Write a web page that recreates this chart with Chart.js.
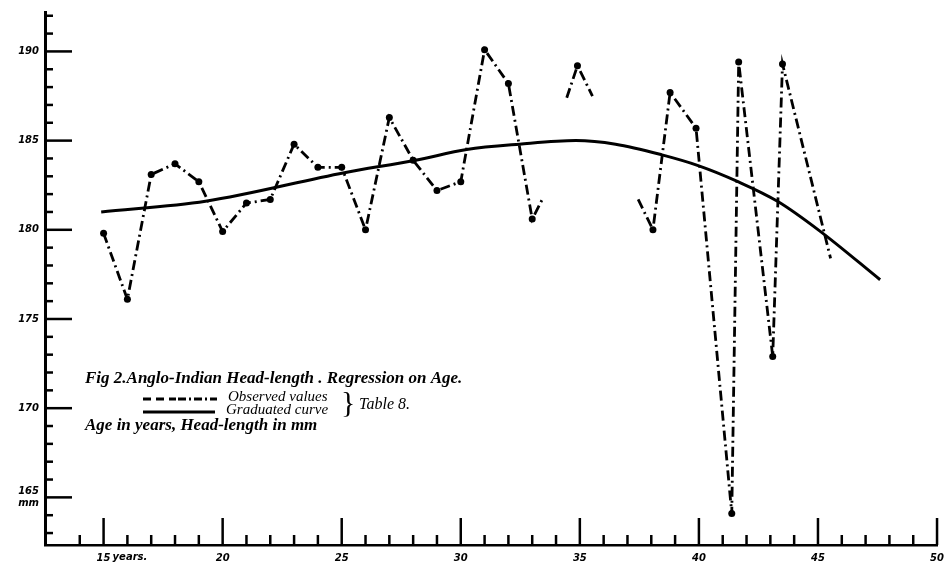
<!DOCTYPE html>
<html>
<head>
<meta charset="utf-8">
<script src="https://cdn.jsdelivr.net/npm/chart.js@4.4.1/dist/chart.umd.min.js"></script>
<style>
    html, body { margin: 0; padding: 0; background: #fff; }
    #wrap { width: 951px; height: 568px; position: relative; }
</style>
</head>
<body>
<div id="wrap"><canvas id="headLengthChart"></canvas></div>
<script>
// Observed values (Table 8). null = no observation, the line breaks there
const obsAge = [15, 16, 17, 18, 19, 20, 21, 22, 23, 24, 25, 26, 27, 28, 29, 30, 31, 32, 33,
    33.42, 34, 34.45, 34.9, 35.53, 36.5, 37.45,
    38.07, 38.79, 39.88, 41.38, 41.67, 43.1, 43.51, 45.53];
const obsMm = [179.8, 176.1, 183.1, 183.7, 182.7, 179.9, 181.5, 181.7, 184.8, 183.5, 183.5, 180.0, 186.3, 183.9, 182.2, 182.7, 190.1, 188.2, 180.6,
    181.7, null, 187.4, 189.2, 187.5, null, 181.7,
    180.0, 187.7, 185.7, 164.1, 189.4, 172.9, 189.3, 178.4];
// 1 = observation marked with a dot, 0 = loose end of a broken line
const obsDot = [1, 1, 1, 1, 1, 1, 1, 1, 1, 1, 1, 1, 1, 1, 1, 1, 1, 1, 1,
    0, 0, 0, 1, 0, 0, 0,
    1, 1, 1, 1, 1, 1, 1, 0];

// Graduated curve
const curveAge = [14.9, 19.28, 25.11, 28.1, 30.25, 32.47, 34.83, 36.5, 38.45, 39.97, 41.64, 43.3, 45.11, 47.61];
const curveMm = [181.0, 181.6, 183.2, 183.9, 184.5, 184.8, 185.0, 184.8, 184.2, 183.6, 182.7, 181.6, 179.9, 177.2];

// Axis labels
const yLabelValues = [165, 170, 175, 180, 185, 190];
const xLabelValues = [15, 20, 25, 30, 35, 40, 45, 50];

const tickFont = { family: 'DejaVu Sans', size: 10, weight: 'bold', style: 'italic' };

// Ticks drawn inward like the hand-ruled original, plus the figure notes
const handDrawn = {
    id: 'handDrawn',
    afterDraw(chart) {
        const { ctx, chartArea: area, scales: { x, y } } = chart;
        ctx.save();
        ctx.strokeStyle = '#000';
        ctx.fillStyle = '#000';

        // y ticks, every mm, long ones every 5
        ctx.lineWidth = 2.5;
        for (let v = Math.ceil(y.min); v <= Math.floor(y.max); v++) {
            const py = y.getPixelForValue(v);
            const len = v % 5 === 0 ? 27 : 8;
            ctx.beginPath();
            ctx.moveTo(area.left, py);
            ctx.lineTo(area.left + len, py);
            ctx.stroke();
        }
        // x ticks, every year, long ones every 5
        for (let a = 14; a <= Math.floor(x.max); a++) {
            const px = x.getPixelForValue(a);
            const len = a % 5 === 0 ? 27 : 10;
            ctx.beginPath();
            ctx.moveTo(px, area.bottom);
            ctx.lineTo(px, area.bottom - len);
            ctx.stroke();
        }

        // "years." after the first age label
        ctx.font = 'italic bold 10px "DejaVu Sans"';
        ctx.textBaseline = 'top';
        ctx.fillText('years.', x.getPixelForValue(15) + 9, area.bottom + 7);

        // caption and key
        ctx.textBaseline = 'middle';
        ctx.font = 'italic bold 17px "Liberation Serif"';
        ctx.fillText('Fig 2.Anglo-Indian Head-length . Regression on Age.', 85, 379);
        ctx.fillText('Age in years, Head-length in mm', 85, 426);

        ctx.lineWidth = 2.8;
        ctx.setLineDash([8, 5]);
        ctx.beginPath();
        ctx.moveTo(143, 399);
        ctx.lineTo(176, 399);
        ctx.stroke();
        ctx.setLineDash([8, 3, 2, 3]);
        ctx.beginPath();
        ctx.moveTo(178, 399);
        ctx.lineTo(217, 399);
        ctx.stroke();
        ctx.setLineDash([]);
        ctx.beginPath();
        ctx.moveTo(143, 412);
        ctx.lineTo(215, 412);
        ctx.stroke();

        ctx.font = 'italic 15px "Liberation Serif"';
        ctx.fillText('Observed values', 228, 397);
        ctx.fillText('Graduated curve', 226, 410);
        ctx.font = 'italic 16px "Liberation Serif"';
        ctx.fillText('Table 8.', 359, 405);
        ctx.font = '30px "Liberation Serif"';
        ctx.fillText('}', 341, 404);
        ctx.restore();
    }
};

const chart = new Chart(document.getElementById('headLengthChart'), {
    type: 'line',
    data: {
        datasets: [{
            label: 'Observed values',
            data: obsAge.map((a, i) => ({ x: a, y: obsMm[i] })),
            borderColor: '#000',
            backgroundColor: '#000',
            borderWidth: 2.8,
            borderDash: [10, 4, 2, 4],
            pointRadius: ctx => obsDot[ctx.dataIndex] ? 3.5 : 0,
            pointBorderWidth: 0,
            spanGaps: false,
            tension: 0,
            fill: false
        }, {
            label: 'Graduated curve',
            data: curveAge.map((a, i) => ({ x: a, y: curveMm[i] })),
            borderColor: '#000',
            borderWidth: 3,
            pointRadius: 0,
            cubicInterpolationMode: 'monotone',
            fill: false
        }]
    },
    options: {
        responsive: true,
        maintainAspectRatio: false,
        animation: false,
        layout: { padding: { top: 8, right: 6, left: 0, bottom: 0 } },
        plugins: {
            legend: { display: false },
            tooltip: { enabled: false }
        },
        scales: {
            x: {
                type: 'linear',
                min: 12.54,
                max: 50.04,
                grid: { display: false, drawTicks: false },
                border: { display: true, color: '#000', width: 2.5 },
                afterBuildTicks: scale => { scale.ticks = xLabelValues.map(v => ({ value: v })); },
                afterFit: scale => { scale.height = 23; },
                ticks: {
                    autoSkip: false,
                    maxRotation: 0,
                    padding: 7,
                    color: '#000',
                    font: tickFont,
                    callback: v => String(v)
                }
            },
            y: {
                min: 162.33,
                max: 192.21,
                grid: { display: false, drawTicks: false },
                border: { display: true, color: '#000', width: 3 },
                afterBuildTicks: scale => { scale.ticks = yLabelValues.map(v => ({ value: v })); },
                afterFit: scale => { scale.width = 45; },
                ticks: {
                    padding: 6,
                    color: '#000',
                    font: tickFont,
                    callback: v => v === 165 ? ['165', 'mm'] : String(v)
                }
            }
        }
    },
    plugins: [handDrawn]
});
</script>
</body>
</html>
